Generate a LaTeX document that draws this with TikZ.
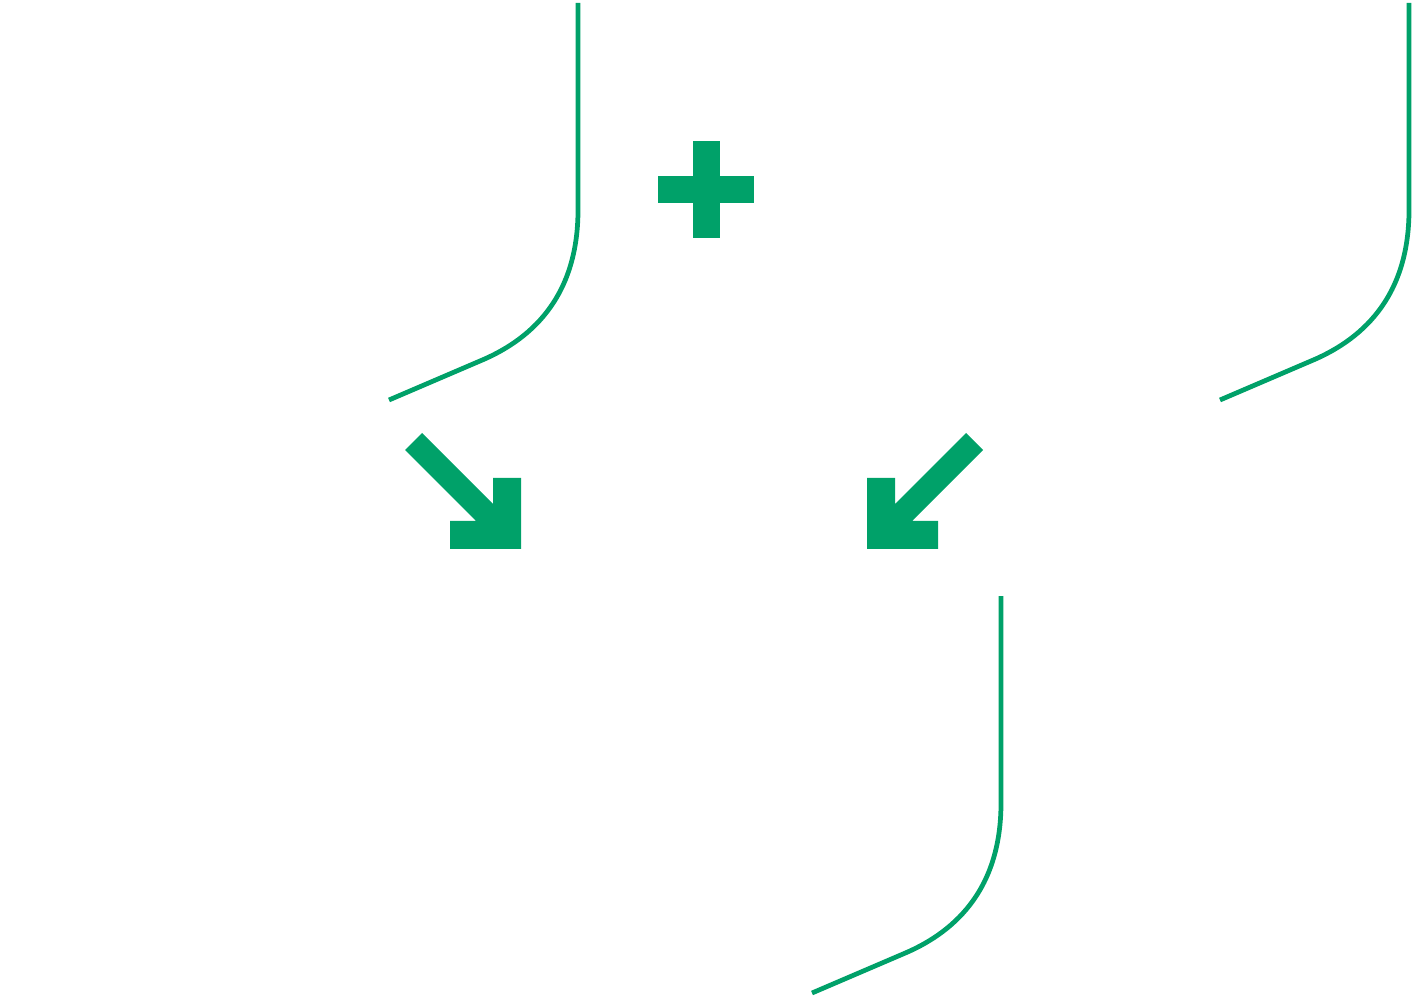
\documentclass[tikz,border=0pt]{standalone}
\usepackage{tikz}
\usetikzlibrary{calc}
\definecolor{leafgreen}{RGB}{0,161,105}
\newcommand\hookline[1]{
    \def\A{#1}
    \draw[hook] ($(\A)$) -- ($(\A) + (0,207)$)
        .. controls ($(\A) + (0,297)$) and ($(\A) + (-50,338)$) .. ($(\A) + (-98,358)$)
        -- ($(\A) + (-189,397)$);
}
\newcommand\bentarrow[2]{
    \begin{scope}[shift={(#1)}, xscale=#2]
        \fill[leafgreen] (-99,-116) -- (-28,-45) -- (-28,-71) -- (0,-71) -- (0,0)
            -- (-71,0) -- (-71,-28) -- (-45,-28) -- (-116,-99) -- cycle;
    \end{scope}
}

\begin{document}
\begin{tikzpicture}[
        x=0.02cm, y=-0.02cm,
        hook/.style={draw=leafgreen, line width=2.7pt},
        bar/.style={fill=leafgreen}
    ]
    \useasboundingbox (0,0) rectangle (1413,996);
    \hookline{578,3}
    \hookline{1409,3}
    \hookline{1001,596}

    \bentarrow{521,549}{1}
    \bentarrow{867,549}{-1}

    % plus
    \fill[bar] (693,141) rectangle (720,238);
    \fill[bar] (658,176) rectangle (754,203);
\end{tikzpicture}
\end{document}
